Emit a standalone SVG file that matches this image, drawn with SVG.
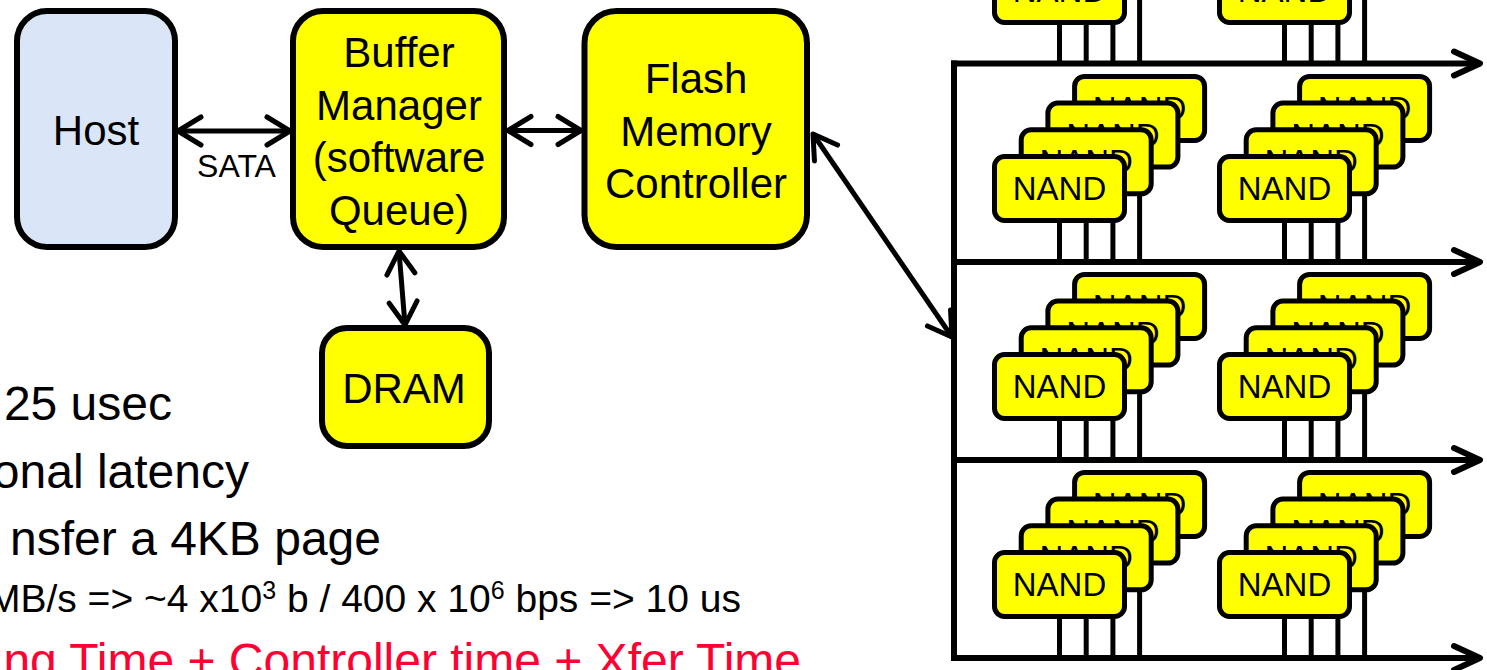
<svg xmlns="http://www.w3.org/2000/svg" width="1487" height="670" viewBox="0 0 1487 670">
<style>
.box{stroke:#000;stroke-width:6}
.yel{fill:#ffff00}
.t{font-family:'Liberation Sans',Arial,sans-serif;font-size:42px;fill:#000;text-anchor:middle}
.nand{fill:#ffff00;stroke:#000;stroke-width:5}
.nt{font-family:'Liberation Sans',Arial,sans-serif;font-size:33px;fill:#000;text-anchor:middle}
.pin{stroke:#000;stroke-width:5;fill:none}
.con{stroke:#000;stroke-width:5;fill:none}
.bus{stroke:#000;stroke-width:6;fill:none}
.body{font-family:'Liberation Sans',Arial,sans-serif;font-size:48px;fill:#000;text-anchor:end}
.small{font-size:39px}
.sup{font-size:25px}
.red{fill:#ff0033}
</style>
<defs>
<marker id="ah" markerUnits="userSpaceOnUse" orient="auto-start-reverse" markerWidth="40" markerHeight="40" viewBox="-30 -20 40 40" refX="0" refY="0" overflow="visible">
<path d="M-23,-14 L0,0 L-23,14" fill="none" stroke="#000" stroke-width="5" stroke-linecap="round" stroke-linejoin="round"/>
</marker>
<marker id="ahb" markerUnits="userSpaceOnUse" orient="auto" markerWidth="40" markerHeight="40" viewBox="-30 -20 40 40" refX="0" refY="0" overflow="visible">
<path d="M-26,-12 L0,0 L-26,12" fill="none" stroke="#000" stroke-width="6" stroke-linecap="round" stroke-linejoin="round"/>
</marker>
</defs>

<g id="connectors">
<line class="con" x1="178" y1="131" x2="290" y2="131" marker-start="url(#ah)" marker-end="url(#ah)"/>
<line class="con" x1="508" y1="130.5" x2="581" y2="130.5" marker-start="url(#ah)" marker-end="url(#ah)"/>
<line class="con" x1="399" y1="251" x2="405" y2="325" marker-start="url(#ah)" marker-end="url(#ah)"/>
<line class="con" x1="813" y1="134" x2="952" y2="337" marker-start="url(#ah)" marker-end="url(#ah)"/>
<line class="bus" x1="954" y1="60.5" x2="954" y2="661"/>
<line class="bus" x1="951" y1="63.5" x2="1480" y2="63.5" marker-end="url(#ahb)"/>
<line class="bus" x1="951" y1="262" x2="1480" y2="262" marker-end="url(#ahb)"/>
<line class="bus" x1="951" y1="460" x2="1480" y2="460" marker-end="url(#ahb)"/>
<line class="bus" x1="951" y1="658" x2="1480" y2="658" marker-end="url(#ahb)"/>
</g>

<g id="host">
<rect class="box" x="17" y="11" width="158" height="236" rx="30" fill="#dbe5f8"/>
<text class="t" x="96" y="145">Host</text>
</g>
<text id="sata" x="236.5" y="177" font-family="'Liberation Sans',Arial,sans-serif" font-size="32" text-anchor="middle">SATA</text>

<g id="buffer-manager">
<rect class="box yel" x="293" y="11" width="211" height="236" rx="30"/>
<text class="t" x="399" y="67">Buffer</text>
<text class="t" x="399" y="119.5">Manager</text>
<text class="t" x="399" y="172">(software</text>
<text class="t" x="399" y="224.5">Queue)</text>
</g>

<g id="flash-controller">
<rect class="box yel" x="584.5" y="11" width="222.5" height="236" rx="32"/>
<text class="t" x="696" y="93">Flash</text>
<text class="t" x="696" y="145.5">Memory</text>
<text class="t" x="696" y="198">Controller</text>
</g>

<g id="dram">
<rect class="box yel" x="322" y="328" width="167" height="118" rx="25"/>
<text class="t" x="404" y="403">DRAM</text>
</g>

<!-- NAND stacks -->
<g id="nand-r0-c0" transform="translate(994.5,-41.5)">
<line class="pin" x1="65" y1="32" x2="65" y2="105.5"/>
<line class="pin" x1="91.7" y1="5.3" x2="91.7" y2="105.5"/>
<line class="pin" x1="118.4" y1="-21.4" x2="118.4" y2="105.5"/>
<line class="pin" x1="145.1" y1="-48.1" x2="145.1" y2="105.5"/>
<rect class="nand" x="0" y="0" width="130" height="64" rx="10"/>
<text class="nt" x="65" y="43.5">NAND</text>
</g>
<g id="nand-r0-c1" transform="translate(1219.5,-41.5)">
<line class="pin" x1="65" y1="32" x2="65" y2="105.5"/>
<line class="pin" x1="91.7" y1="5.3" x2="91.7" y2="105.5"/>
<line class="pin" x1="118.4" y1="-21.4" x2="118.4" y2="105.5"/>
<line class="pin" x1="145.1" y1="-48.1" x2="145.1" y2="105.5"/>
<rect class="nand" x="0" y="0" width="130" height="64" rx="10"/>
<text class="nt" x="65" y="43.5">NAND</text>
</g>

<g id="nand-r1-c0" transform="translate(994.5,156.5)">
<line class="pin" x1="65" y1="32" x2="65" y2="105.5"/>
<line class="pin" x1="91.7" y1="5.3" x2="91.7" y2="105.5"/>
<line class="pin" x1="118.4" y1="-21.4" x2="118.4" y2="105.5"/>
<line class="pin" x1="145.1" y1="-48.1" x2="145.1" y2="105.5"/>
<rect class="nand" x="80.1" y="-80.1" width="130" height="64" rx="10"/>
<text class="nt" x="145.1" y="-36.6">NAND</text>
<rect class="nand" x="53.4" y="-53.4" width="130" height="64" rx="10"/>
<text class="nt" x="118.4" y="-9.9">NAND</text>
<rect class="nand" x="26.7" y="-26.7" width="130" height="64" rx="10"/>
<text class="nt" x="91.7" y="16.8">NAND</text>
<rect class="nand" x="0" y="0" width="130" height="64" rx="10"/>
<text class="nt" x="65" y="43.5">NAND</text>
</g>
<g id="nand-r1-c1" transform="translate(1219.5,156.5)">
<line class="pin" x1="65" y1="32" x2="65" y2="105.5"/>
<line class="pin" x1="91.7" y1="5.3" x2="91.7" y2="105.5"/>
<line class="pin" x1="118.4" y1="-21.4" x2="118.4" y2="105.5"/>
<line class="pin" x1="145.1" y1="-48.1" x2="145.1" y2="105.5"/>
<rect class="nand" x="80.1" y="-80.1" width="130" height="64" rx="10"/>
<text class="nt" x="145.1" y="-36.6">NAND</text>
<rect class="nand" x="53.4" y="-53.4" width="130" height="64" rx="10"/>
<text class="nt" x="118.4" y="-9.9">NAND</text>
<rect class="nand" x="26.7" y="-26.7" width="130" height="64" rx="10"/>
<text class="nt" x="91.7" y="16.8">NAND</text>
<rect class="nand" x="0" y="0" width="130" height="64" rx="10"/>
<text class="nt" x="65" y="43.5">NAND</text>
</g>

<g id="nand-r2-c0" transform="translate(994.5,354.5)">
<line class="pin" x1="65" y1="32" x2="65" y2="105.5"/>
<line class="pin" x1="91.7" y1="5.3" x2="91.7" y2="105.5"/>
<line class="pin" x1="118.4" y1="-21.4" x2="118.4" y2="105.5"/>
<line class="pin" x1="145.1" y1="-48.1" x2="145.1" y2="105.5"/>
<rect class="nand" x="80.1" y="-80.1" width="130" height="64" rx="10"/>
<text class="nt" x="145.1" y="-36.6">NAND</text>
<rect class="nand" x="53.4" y="-53.4" width="130" height="64" rx="10"/>
<text class="nt" x="118.4" y="-9.9">NAND</text>
<rect class="nand" x="26.7" y="-26.7" width="130" height="64" rx="10"/>
<text class="nt" x="91.7" y="16.8">NAND</text>
<rect class="nand" x="0" y="0" width="130" height="64" rx="10"/>
<text class="nt" x="65" y="43.5">NAND</text>
</g>
<g id="nand-r2-c1" transform="translate(1219.5,354.5)">
<line class="pin" x1="65" y1="32" x2="65" y2="105.5"/>
<line class="pin" x1="91.7" y1="5.3" x2="91.7" y2="105.5"/>
<line class="pin" x1="118.4" y1="-21.4" x2="118.4" y2="105.5"/>
<line class="pin" x1="145.1" y1="-48.1" x2="145.1" y2="105.5"/>
<rect class="nand" x="80.1" y="-80.1" width="130" height="64" rx="10"/>
<text class="nt" x="145.1" y="-36.6">NAND</text>
<rect class="nand" x="53.4" y="-53.4" width="130" height="64" rx="10"/>
<text class="nt" x="118.4" y="-9.9">NAND</text>
<rect class="nand" x="26.7" y="-26.7" width="130" height="64" rx="10"/>
<text class="nt" x="91.7" y="16.8">NAND</text>
<rect class="nand" x="0" y="0" width="130" height="64" rx="10"/>
<text class="nt" x="65" y="43.5">NAND</text>
</g>

<g id="nand-r3-c0" transform="translate(994.5,552.5)">
<line class="pin" x1="65" y1="32" x2="65" y2="105.5"/>
<line class="pin" x1="91.7" y1="5.3" x2="91.7" y2="105.5"/>
<line class="pin" x1="118.4" y1="-21.4" x2="118.4" y2="105.5"/>
<line class="pin" x1="145.1" y1="-48.1" x2="145.1" y2="105.5"/>
<rect class="nand" x="80.1" y="-80.1" width="130" height="64" rx="10"/>
<text class="nt" x="145.1" y="-36.6">NAND</text>
<rect class="nand" x="53.4" y="-53.4" width="130" height="64" rx="10"/>
<text class="nt" x="118.4" y="-9.9">NAND</text>
<rect class="nand" x="26.7" y="-26.7" width="130" height="64" rx="10"/>
<text class="nt" x="91.7" y="16.8">NAND</text>
<rect class="nand" x="0" y="0" width="130" height="64" rx="10"/>
<text class="nt" x="65" y="43.5">NAND</text>
</g>
<g id="nand-r3-c1" transform="translate(1219.5,552.5)">
<line class="pin" x1="65" y1="32" x2="65" y2="105.5"/>
<line class="pin" x1="91.7" y1="5.3" x2="91.7" y2="105.5"/>
<line class="pin" x1="118.4" y1="-21.4" x2="118.4" y2="105.5"/>
<line class="pin" x1="145.1" y1="-48.1" x2="145.1" y2="105.5"/>
<rect class="nand" x="80.1" y="-80.1" width="130" height="64" rx="10"/>
<text class="nt" x="145.1" y="-36.6">NAND</text>
<rect class="nand" x="53.4" y="-53.4" width="130" height="64" rx="10"/>
<text class="nt" x="118.4" y="-9.9">NAND</text>
<rect class="nand" x="26.7" y="-26.7" width="130" height="64" rx="10"/>
<text class="nt" x="91.7" y="16.8">NAND</text>
<rect class="nand" x="0" y="0" width="130" height="64" rx="10"/>
<text class="nt" x="65" y="43.5">NAND</text>
</g>

<g id="notes">
<text class="body" x="172" y="420">25 usec</text>
<text class="body" x="249" y="488">onal latency</text>
<text class="body" x="381" y="555">nsfer a 4KB page</text>
<text class="body small" x="741" y="612">MB/s =&gt; ~4 x10<tspan class="sup" dy="-13">3</tspan><tspan dy="13"> b / 400 x 10</tspan><tspan class="sup" dy="-13">6</tspan><tspan dy="13"> bps =&gt; 10 us</tspan></text>
<text class="body red" x="801" y="677">ng Time + Controller time + Xfer Time</text>
</g>
</svg>
